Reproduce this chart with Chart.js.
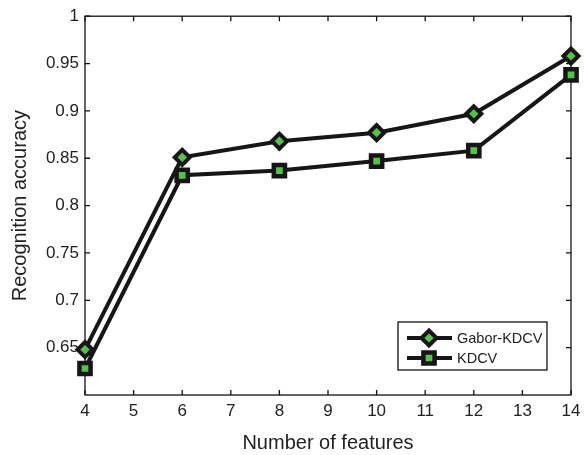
<!DOCTYPE html>
<html>
<head>
<meta charset="utf-8">
<script src="https://cdn.jsdelivr.net/npm/chart.js@4.4.1/dist/chart.umd.min.js"></script>
<style>
  html, body { margin: 0; padding: 0; background: #fff; }
  #wrap { width: 587px; height: 455px; position: relative; }
</style>
</head>
<body>
<div id="wrap"><canvas id="accChart"></canvas></div>
<script>
const features = [4, 6, 8, 10, 12, 14];
const gaborKdcv = [0.648, 0.851, 0.868, 0.877, 0.897, 0.958];
const kdcv = [0.628, 0.832, 0.837, 0.847, 0.858, 0.938];
const yTicks = [0.65, 0.7, 0.75, 0.8, 0.85, 0.9, 0.95, 1];

const LINE = '#161616';
const GREEN = '#58c04c';
const FONT = '"Liberation Sans", Arial, Helvetica, sans-serif';

function toPoints(values) {
    return features.map((f, i) => ({ x: f, y: values[i] }));
}

// marker drawing for the legend (same look as the plotted points)
function drawMarker(ctx, style, x, y) {
    ctx.save();
    ctx.fillStyle = GREEN;
    ctx.strokeStyle = LINE;
    ctx.beginPath();
    if (style === 'rectRot') {
        const r = 7.5;
        ctx.lineWidth = 4;
        ctx.moveTo(x - r, y);
        ctx.lineTo(x, y - r);
        ctx.lineTo(x + r, y);
        ctx.lineTo(x, y + r);
        ctx.closePath();
    } else {
        const s = 5.6;
        ctx.lineWidth = 4.5;
        ctx.rect(x - s, y - s, 2 * s, 2 * s);
    }
    ctx.fill();
    ctx.stroke();
    ctx.restore();
}

// MATLAB-like box with inward ticks
const boxPlugin = {
    id: 'matlabBox',
    beforeDatasetsDraw(chart) {
        const { ctx, chartArea: a, scales } = chart;
        ctx.save();
        ctx.strokeStyle = '#111';
        ctx.lineWidth = 1.3;
        ctx.strokeRect(a.left, a.top, a.right - a.left, a.bottom - a.top);
        ctx.beginPath();
        const tl = 5;
        for (let v = 4; v <= 14; v++) {
            const px = scales.x.getPixelForValue(v);
            ctx.moveTo(px, a.bottom); ctx.lineTo(px, a.bottom - tl);
            ctx.moveTo(px, a.top); ctx.lineTo(px, a.top + tl);
        }
        yTicks.forEach(v => {
            const py = scales.y.getPixelForValue(v);
            ctx.moveTo(a.left, py); ctx.lineTo(a.left + tl, py);
            ctx.moveTo(a.right, py); ctx.lineTo(a.right - tl, py);
        });
        ctx.stroke();
        ctx.restore();
    }
};

const legendPlugin = {
    id: 'insideLegend',
    afterDraw(chart) {
        const { ctx } = chart;
        const x0 = 398, y0 = 322, w = 149, h = 48;
        ctx.save();
        ctx.fillStyle = '#fff';
        ctx.fillRect(x0, y0, w, h);
        ctx.strokeStyle = '#111';
        ctx.lineWidth = 1.3;
        ctx.strokeRect(x0, y0, w, h);
        chart.data.datasets.forEach((ds, i) => {
            const cy = y0 + 16 + i * 20;
            ctx.strokeStyle = LINE;
            ctx.lineWidth = 4;
            ctx.beginPath();
            ctx.moveTo(x0 + 9, cy);
            ctx.lineTo(x0 + 54, cy);
            ctx.stroke();
            drawMarker(ctx, ds.pointStyle, x0 + 31, cy);
            ctx.fillStyle = '#222';
            ctx.font = '14.5px ' + FONT;
            ctx.textBaseline = 'middle';
            ctx.textAlign = 'left';
            ctx.fillText(ds.label, x0 + 59, cy + 1);
        });
        ctx.restore();
    }
};

new Chart(document.getElementById('accChart').getContext('2d'), {
    type: 'line',
    data: {
        datasets: [
            {
                label: 'Gabor-KDCV',
                data: toPoints(gaborKdcv),
                borderColor: LINE,
                borderWidth: 4,
                pointStyle: 'rectRot',
                pointRadius: 7.5,
                pointBorderWidth: 4,
                pointBackgroundColor: GREEN,
                pointBorderColor: LINE,
                tension: 0,
                clip: false
            },
            {
                label: 'KDCV',
                data: toPoints(kdcv),
                borderColor: LINE,
                borderWidth: 4,
                pointStyle: 'rect',
                pointRadius: 7.9,
                pointBorderWidth: 4.5,
                pointBackgroundColor: GREEN,
                pointBorderColor: LINE,
                tension: 0,
                clip: false
            }
        ]
    },
    options: {
        responsive: true,
        maintainAspectRatio: false,
        animation: false,
        layout: { padding: { top: 13, right: 16, left: 0, bottom: 0 } },
        plugins: {
            legend: { display: false },
            tooltip: { enabled: false }
        },
        scales: {
            x: {
                type: 'linear',
                min: 4,
                max: 14,
                ticks: {
                    stepSize: 1,
                    color: '#222',
                    padding: 6,
                    maxRotation: 0,
                    font: { family: FONT, size: 17 }
                },
                grid: { display: false, drawTicks: false },
                border: { display: false },
                title: {
                    display: true,
                    text: 'Number of features',
                    color: '#222',
                    font: { family: FONT, size: 20 },
                    padding: { top: 0, bottom: 0 }
                },
                afterFit(scale) { scale.height = 60; }
            },
            y: {
                min: 0.6,
                max: 1,
                ticks: {
                    stepSize: 0.05,
                    color: '#222',
                    padding: 6,
                    font: { family: FONT, size: 17 },
                    callback: v => (Math.abs(v - 0.6) < 1e-6 ? '' : String(Math.round(v * 100) / 100))
                },
                grid: { display: false, drawTicks: false },
                border: { display: false },
                title: {
                    display: true,
                    text: 'Recognition accuracy',
                    color: '#222',
                    font: { family: FONT, size: 20 },
                    padding: { top: 8, bottom: 0 }
                },
                afterFit(scale) { scale.width = 85; }
            }
        }
    },
    plugins: [boxPlugin, legendPlugin]
});
</script>
</body>
</html>
